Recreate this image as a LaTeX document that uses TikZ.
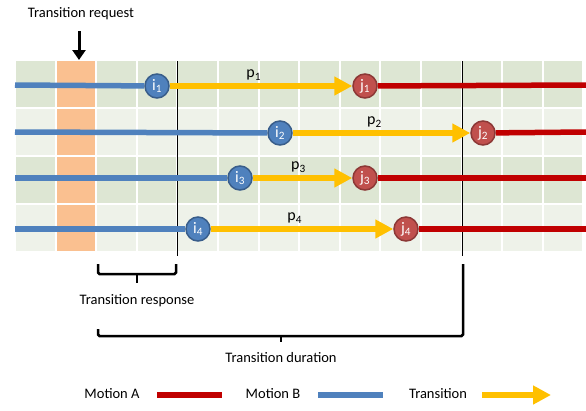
\documentclass[tikz,border=0pt]{standalone}
\usepackage{fontspec}
\setmainfont{Carlito}
\usepackage{xcolor}
\definecolor{MotionRed}{HTML}{C00000}
\definecolor{MotionBlue}{HTML}{4F81BD}
\definecolor{TransGold}{HTML}{FFC000}
\definecolor{BlueRim}{HTML}{385D8A}
\definecolor{RedFill}{HTML}{C0504D}
\definecolor{RedRim}{HTML}{8C3836}
\definecolor{RowDark}{HTML}{DDE6D3}
\definecolor{RowLight}{HTML}{EEF2E9}
\definecolor{ReqOrange}{HTML}{FAC090}
\usetikzlibrary{arrows.meta,positioning}

\begin{document}
\begin{tikzpicture}[x=1pt,y=-1pt,>=Latex,font=\fontsize{14.5}{17}\selectfont,
jointB/.style={circle,draw=BlueRim,fill=MotionBlue,line width=1.5pt,minimum size=24pt,inner sep=0pt,text=white,font=\fontsize{16}{18}\selectfont},
jointA/.style={circle,draw=RedRim,fill=RedFill,line width=1.5pt,minimum size=24pt,inner sep=0pt,text=white,font=\fontsize{16}{18}\selectfont},
motionA/.style={draw=MotionRed,line width=5.5pt},
motionB/.style={draw=MotionBlue,line width=5.5pt},
trans/.style={draw=TransGold,line width=5.5pt,-{Triangle[length=18pt,width=18pt]}},
plabel/.style={above,pos=0.46,inner sep=3pt,font=\fontsize{16}{18}\selectfont},
marker/.style={draw=black,line width=0.7pt},
bracket/.style={draw=black,line width=2.5pt,rounded corners=1.5pt}]
\useasboundingbox (0,0) rectangle (586,410);
\foreach \r/\rowcol in {0/RowDark,1/RowLight,2/RowDark,3/RowLight}{
  \foreach \c in {0,...,13}
    \fill[\rowcol] (16+40.6*\c,61+48*\r) rectangle ++(38.6,46);
  \fill[ReqOrange] (56.6,61+48*\r) rectangle ++(38.6,46);
}
\draw[marker] (177,61) -- (177,256);
\draw[marker] (462,61) -- (462,256);

\node (req) at (81,14) {Transition request};
\coordinate (reqtop) at (79,31);
\coordinate (reqtip) at (79,60);
\draw[line width=3pt,-{Triangle[length=10pt,width=13pt]}] (reqtop) -- (reqtip);

\node[jointB] (i1) at (157,86) {i\textsubscript{1}};
\node[jointB] (i2) at (280,133) {i\textsubscript{2}};
\node[jointB] (i3) at (240,178) {i\textsubscript{3}};
\node[jointB] (i4) at (198,229) {i\textsubscript{4}};
\node[jointA] (j1) at (365,86) {j\textsubscript{1}};
\node[jointA] (j2) at (483,133) {j\textsubscript{2}};
\node[jointA] (j3) at (365,178) {j\textsubscript{3}};
\node[jointA] (j4) at (406,229) {j\textsubscript{4}};
\foreach \k/\y in {1/85,2/132,3/178,4/229}{
  \coordinate (a\k) at (15,\y);
  \coordinate (b\k) at (586,\y);
  \draw[motionB] (a\k) -- (i\k);
  \draw[motionA] (j\k) -- (b\k);
}
\draw[trans] (i1) -- node[plabel]{p\textsubscript{1}} (j1);
\draw[trans] (i2) -- node[plabel]{p\textsubscript{2}} (j2);
\draw[trans] (i3) -- node[plabel]{p\textsubscript{3}} (j3);
\draw[trans] (i4) -- node[plabel]{p\textsubscript{4}} (j4);

\coordinate (rtick) at (137,283);
\draw[bracket] (98,264) -- (98,274) -- (176,274) -- (176,264);
\draw[bracket] (137,274) -- (rtick);
\node[below=8pt of rtick] (resp) {Transition response};
\coordinate (dtick) at (281,342);
\draw[bracket] (98,329) -- (98,336) -- (463,336) -- (463,264);
\draw[bracket] (281,336) -- (dtick);
\node[below=7pt of dtick] (dur) {Transition duration};

\node (legA) at (112,394) {Motion A};
\node (legB) at (273,394) {Motion B};
\node (legT) at (438,394) {Transition};
\coordinate (barA1) at (157,395);
\coordinate (barA2) at (222,395);
\coordinate (barB1) at (318,395);
\coordinate (barB2) at (383,395);
\coordinate (barT1) at (482,395);
\coordinate (barT2) at (551,395);
\draw[motionA,line width=6.5pt] (barA1) -- (barA2);
\draw[motionB,line width=6.5pt] (barB1) -- (barB2);
\draw[trans,line width=6.5pt] (barT1) -- (barT2);
\end{tikzpicture}
\end{document}
